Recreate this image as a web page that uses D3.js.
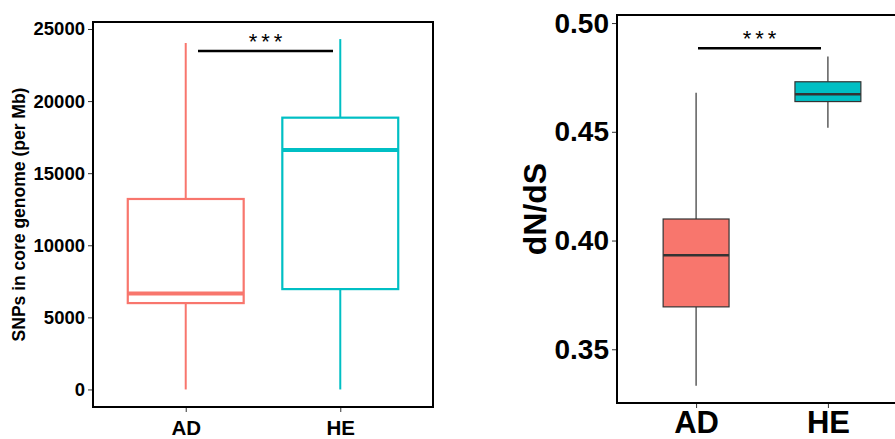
<!DOCTYPE html>
<html lang="en">
<head>
<meta charset="UTF-8">
<title>SNPs and dN/dS boxplots</title>
<script src="https://d3js.org/d3.v7.min.js"></script>
<style>
  body { margin: 0; background: #fff; overflow: hidden; }
  text { font-family: "Liberation Sans", Arial, sans-serif; font-weight: bold; }
</style>
</head>
<body>
<svg width="895" height="439"></svg>
<script>
// groups
var groups = ["AD", "HE"];
var colors = ["#F8766D", "#00BFC4"];

// left panel: SNPs in core genome (per Mb)
var snpMin = [0, 0];
var snpQ1 = [5990, 6960];
var snpMedian = [6660, 16600];
var snpQ3 = [13210, 18850];
var snpMax = [24030, 24300];
var snpTicks = [0, 5000, 10000, 15000, 20000, 25000];

// right panel: dN/dS
var dndsMin = [0.3332, 0.4519];
var dndsQ1 = [0.3695, 0.4639];
var dndsMedian = [0.3932, 0.4673];
var dndsQ3 = [0.4099, 0.4730];
var dndsMax = [0.4680, 0.4846];
var dndsTicks = [0.35, 0.40, 0.45, 0.50];

var svg = d3.select("svg");

function panel(cfg) {
    var g = svg.append("g");
    // discrete axis like ggplot: 0.6 step of padding on each side
    var x = d3.scalePoint().domain(groups).range([cfg.left, cfg.right]).padding(0.6);
    var y = d3.scaleLinear().domain(cfg.domain).range([cfg.bottom, cfg.top]);

    var data = groups.map(function (k, i) {
        return {key: k, min: cfg.min[i], q1: cfg.q1[i], med: cfg.med[i], q3: cfg.q3[i], max: cfg.max[i], color: colors[i]};
    });

    var cx = function (d) { return x(d.key); };
    var bw = x.step() * cfg.boxFrac;
    var lineCol = function (d) { return cfg.filled ? "#333" : d.color; };

    var box = g.selectAll(".box").data(data).enter().append("g").attr("class", "box");

    // whiskers
    box.append("line")
        .attr("x1", cx).attr("x2", cx)
        .attr("y1", function (d) { return y(d.q3); })
        .attr("y2", function (d) { return y(d.max); })
        .attr("stroke", lineCol)
        .attr("stroke-width", cfg.whiskerW);
    box.append("line")
        .attr("x1", cx).attr("x2", cx)
        .attr("y1", function (d) { return y(d.q1); })
        .attr("y2", function (d) { return y(d.min); })
        .attr("stroke", lineCol)
        .attr("stroke-width", cfg.whiskerW);

    box.append("rect")
        .attr("x", function (d) { return cx(d) - bw / 2; })
        .attr("width", bw)
        .attr("y", function (d) { return y(d.q3); })
        .attr("height", function (d) { return y(d.q1) - y(d.q3); })
        .attr("fill", function (d) { return cfg.filled ? d.color : "none"; })
        .attr("stroke", lineCol)
        .attr("stroke-width", cfg.boxW);

    box.append("line")
        .attr("x1", function (d) { return cx(d) - bw / 2; })
        .attr("x2", function (d) { return cx(d) + bw / 2; })
        .attr("y1", function (d) { return y(d.med); })
        .attr("y2", function (d) { return y(d.med); })
        .attr("stroke", lineCol)
        .attr("stroke-width", cfg.medW);

    // significance bar
    g.append("line")
        .attr("x1", cfg.sig[0]).attr("x2", cfg.sig[1])
        .attr("y1", y(cfg.sigY)).attr("y2", y(cfg.sigY))
        .attr("stroke", "#000").attr("stroke-width", 2.5);
    g.append("text")
        .attr("x", (cfg.sig[0] + cfg.sig[1]) / 2 + 2)
        .attr("y", y(cfg.sigY) + cfg.starDy)
        .attr("text-anchor", "middle")
        .style("font-weight", "normal")
        .style("font-size", cfg.starSize + "px")
        .style("letter-spacing", "4px")
        .text("***");

    // axes
    var yAxis = g.append("g")
        .attr("transform", "translate(" + cfg.left + ",0)")
        .call(d3.axisLeft(y).tickValues(cfg.ticks).tickFormat(cfg.fmt).tickSize(5).tickPadding(3));
    yAxis.select(".domain").remove();
    yAxis.selectAll(".tick line").attr("stroke", "#333").attr("stroke-width", 1);
    yAxis.selectAll(".tick text").attr("fill", "#000").style("font-size", cfg.tickSize + "px");

    var xAxis = g.append("g")
        .attr("transform", "translate(0," + cfg.bottom + ")")
        .call(d3.axisBottom(x).tickSize(5).tickPadding(cfg.xPad));
    xAxis.select(".domain").remove();
    xAxis.selectAll(".tick line").attr("stroke", "#333").attr("stroke-width", 1);
    xAxis.selectAll(".tick text").attr("fill", "#000").style("font-size", cfg.xSize + "px");

    // frame
    g.append("rect")
        .attr("x", cfg.left).attr("y", cfg.top)
        .attr("width", cfg.right - cfg.left).attr("height", cfg.bottom - cfg.top)
        .attr("fill", "none").attr("stroke", "#000").attr("stroke-width", 2);

    g.append("text")
        .attr("transform", "translate(" + cfg.titleX + "," + (cfg.top + cfg.bottom) / 2 + ") rotate(-90)")
        .attr("text-anchor", "middle")
        .style("font-size", cfg.titleSize + "px")
        .text(cfg.title);
}

panel({
    left: 93, right: 433, top: 22, bottom: 407,
    domain: [-1217, 25485],
    min: snpMin, q1: snpQ1, med: snpMedian, q3: snpQ3, max: snpMax,
    boxFrac: 0.75, filled: false, whiskerW: 2, boxW: 2.2, medW: 4,
    sig: [198, 333], sigY: 23480, starDy: -2, starSize: 22,
    ticks: snpTicks, fmt: d3.format("d"), tickSize: 18.5,
    xPad: 8, xSize: 20.5,
    title: "SNPs in core genome (per Mb)", titleX: 25, titleSize: 17.5
});

panel({
    left: 617, right: 907, top: 15, bottom: 403,
    domain: [0.3253, 0.5037],
    min: dndsMin, q1: dndsQ1, med: dndsMedian, q3: dndsQ3, max: dndsMax,
    boxFrac: 0.5, filled: true, whiskerW: 1.2, boxW: 1.2, medW: 2.5,
    sig: [698, 821], sigY: 0.4884, starDy: -2, starSize: 22,
    ticks: dndsTicks, fmt: d3.format(".2f"), tickSize: 28,
    xPad: 3, xSize: 31,
    title: "dN/dS", titleX: 546, titleSize: 32
});
</script>
</body>
</html>
